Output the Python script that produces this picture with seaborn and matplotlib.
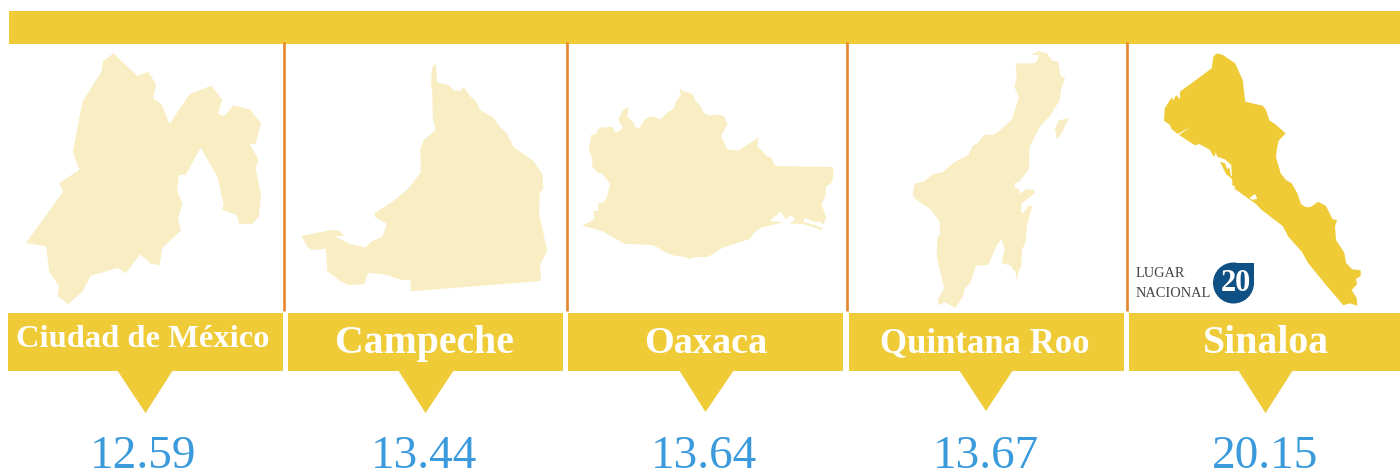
import matplotlib
matplotlib.use('Agg')
import matplotlib.pyplot as plt
from matplotlib.patches import Circle, Rectangle
import seaborn as sns

# Values
states = ['Ciudad de México', 'Campeche', 'Oaxaca', 'Quintana Roo', 'Sinaloa']
values = [12.59, 13.44, 13.64, 13.67, 20.15]
rank_label = ['LUGAR', 'NACIONAL']
rank_value = 20

# Map outlines, in crop coordinates
cdmx = [(312,160),(378,228),(408,215),(429,253),(421,295),(444,312),(466,372),(522,282),(581,257),(611,299),(599,341),(617,348),(642,316),(687,328),(718,370),(703,431),(687,433),(711,479),(703,506),(718,586),(712,650),(694,672),(658,671),(650,644),(611,629),(615,615),(598,531),(552,443),(511,524),(492,525),(487,572),(502,612),(489,656),(498,691),(446,744),(439,796),(415,791),(385,763),(346,820),(324,804),(250,827),(227,874),(187,913),(158,888),(162,858),(135,814),(127,739),(71,729),(174,575),(163,549),(218,510),(200,455),(227,305),(279,215),(283,184)]
campeche = [(1198,187),(1202,248),(1234,255),(1248,272),(1268,272),(1275,260),(1292,288),(1307,301),(1322,331),(1357,353),(1375,381),(1395,402),(1412,441),(1466,482),(1492,523),(1494,566),(1484,582),(1483,645),(1505,752),(1485,795),(1488,843),(1131,874),(1128,840),(1104,840),(1060,824),(1012,818),(1002,853),(959,855),(938,845),(900,814),(896,746),(857,750),(845,740),(829,708),(910,690),(930,691),(948,707),(921,709),(963,732),(1004,742),(1021,725),(1052,710),(1064,671),(1032,652),(1029,640),(1078,606),(1121,568),(1157,518),(1156,447),(1165,421),(1198,390),(1190,352),(1189,280),(1185,250),(1188,205)]
oaxaca = [(327,142),(337,152),(365,162),(372,181),(390,203),(394,218),(411,227),(433,223),(451,229),(461,253),(443,288),(460,328),(490,332),(547,292),(542,317),(570,349),(580,352),(592,378),(751,381),(752,404),(747,428),(731,440),(730,468),(719,494),(733,533),(724,554),(713,544),(703,547),(672,533),(670,546),(700,555),(722,564),(720,571),(670,552),(632,551),(646,539),(636,525),(621,537),(606,515),(577,542),(613,547),(553,563),(535,576),(522,597),(446,624),(407,651),(375,651),(357,657),(340,650),(314,647),(288,636),(265,620),(250,615),(177,611),(117,574),(60,556),(82,546),(95,535),(91,513),(105,512),(105,490),(117,488),(128,475),(138,431),(115,400),(104,398),(89,381),(88,354),(79,328),(85,295),(84,286),(98,282),(108,263),(145,260),(150,276),(161,275),(173,263),(160,240),(173,210),(189,202),(185,229),(200,245),(208,263),(219,263),(235,236),(252,229),(277,238),(296,217),(313,206),(318,186),(333,163)]
qroo = [(1296,45),(1316,33),(1339,40),(1354,63),(1370,64),(1376,107),(1389,115),(1378,146),(1374,181),(1347,228),(1320,259),(1291,321),(1290,386),(1262,426),(1250,430),(1250,441),(1264,450),(1265,462),(1282,448),(1304,449),(1305,461),(1270,489),(1267,516),(1275,519),(1287,498),(1299,497),(1285,553),(1280,608),(1271,628),(1268,682),(1260,697),(1258,724),(1252,696),(1239,677),(1214,669),(1223,630),(1214,596),(1200,618),(1178,674),(1144,678),(1128,729),(1113,745),(1108,769),(1087,804),(1058,786),(1041,796),(1039,778),(1056,744),(1036,650),(1037,595),(1045,582),(1044,545),(1021,510),(976,476),(970,465),(975,431),(1002,424),(1025,403),(1050,398),(1083,368),(1124,344),(1134,318),(1151,307),(1166,284),(1191,285),(1209,272),(1243,238),(1262,172),(1250,142),(1256,104),(1252,67),(1256,70),(1304,70),(1314,60),(1317,45)]
qroo_island = [(1372,241),(1400,234),(1377,285),(1366,298),(1361,265)]
# Sinaloa already in picture pixels
sinaloa = [(1216.7,53.3),(1223,55),(1232.7,61.7),(1235,63),(1242.7,80),(1245.3,101.7),(1262.7,105.7),(1266,110),(1269.3,120.3),(1275,124),(1285.7,133.3),
           (1278.7,140.7),(1276.7,150),(1276,157.3),(1280.7,173.3),(1286,180),(1291.7,183.3),(1297.3,193.3),(1301,204),(1306,207.3),(1310.7,207),(1318.3,201.7),(1326,206),(1332.7,219.3),(1337,220),(1335,226.7),(1336,240),(1344.3,252.7),(1346,262.7),(1352,269.3),(1360.7,270.3),(1360.7,276),(1356,279),(1357,284.3),(1351.7,290),(1356.7,298.3),(1357.3,305.7),(1350,303.3),(1343.3,305.3),(1326,285),(1308.3,263.3),(1301.7,251.7),(1288.3,236.7),(1282.7,226),(1261.7,210),
           (1256,204),(1234,188.3),(1236,187.3),(1251.7,199.7),(1257.3,199),(1255,194),(1249.3,198),(1235,186.7),(1232.3,185),(1232.3,179.3),(1226,174),(1220,161.7),(1225,163.3),(1227.3,169.3),(1229.3,167.3),(1230.7,175),(1232,176.7),(1231.3,165),(1225,159.3),(1217.3,156.7),(1215.7,152),(1214.7,156.7),(1213,155.5),(1210,150),
           (1199.3,144),(1195,145.3),(1179,135),(1190,127.3),(1179,133.3),(1177.5,134),(1171,128.3),(1170,125),(1164,120.7),(1164.7,108.3),(1171.7,97.3),(1173.3,100.7),(1176,95),(1180,99),(1180,91.7),(1211.7,68.3),(1213.3,56.7)]

# Colors
yellow = '#EECB37'
pale = '#F9EEC3'
orange = '#E8862E'
blue = '#3A9ADB'
navy = '#0F5085'


def to_px(points, x0, y0, sx, sy):
    # crops were shown 2.75x wide and 3x tall
    return [x0 + x / sx for x, y in points], [y0 + y / sy for x, y in points]


sns.set_theme(style='white')
plt.rcParams['font.family'] = ['Liberation Serif', 'DejaVu Serif']

fig = plt.figure(figsize=(14, 4.72), dpi=100)
ax = fig.add_axes([0, 0, 1, 1])
ax.set_xlim(0, 1400)
ax.set_ylim(472, 0)
ax.set_axis_off()

# Top band
ax.add_patch(Rectangle((9, 11), 1391, 33, color=yellow, lw=0))

# Dividers
for x in [284, 567, 847, 1127]:
    sns.lineplot(x=[x, x], y=[42, 311], color=orange, linewidth=1.9, estimator=None,
                 sort=False, solid_capstyle='butt', ax=ax, legend=False)

# Maps
for outline, x0, y0, sx, sy, color in [
    (cdmx, 0, 0, 2.75, 3, pale),
    (campeche, 0, 0, 2.75, 3, pale),
    (oaxaca, 560, 40, 2.75, 3, pale),
    (qroo, 560, 40, 2.75, 3, pale),
    (qroo_island, 560, 40, 2.75, 3, pale),
    (sinaloa, 0, 0, 1, 1, yellow),
]:
    xs, ys = to_px(outline, x0, y0, sx, sy)
    ax.fill(xs, ys, color=color, lw=0)

# Name bands with pointers
band_left = [8, 288, 568, 849, 1129]
band_right = [283, 563, 843, 1124, 1400]
tri_left = [117, 398, 679, 959, 1238]
tri_right = [173, 454, 734, 1013, 1293]
tri_tip = [(145.5, 413), (425.5, 413), (705.5, 412), (986, 411), (1265.5, 413)]
name_x = [143, 424, 706, 985, 1266]
name_y = [347, 353, 353, 352, 353]
name_size = [23.4, 28.6, 27.5, 25, 28.6]
value_x = [143, 424, 704, 986, 1265]

for i, state in enumerate(states):
    ax.add_patch(Rectangle((band_left[i], 313), band_right[i] - band_left[i], 58, color=yellow, lw=0))
    ax.fill([tri_left[i], tri_right[i], tri_tip[i][0]], [370, 370, tri_tip[i][1]], color=yellow, lw=0)
    ax.text(name_x[i], name_y[i], state, color='white', fontsize=name_size[i], fontweight='bold',
            ha='center', va='baseline')
    ax.text(value_x[i], 468, f'{values[i]:.2f}', color=blue, fontsize=34, ha='center', va='baseline')

# National rank badge
ax.add_patch(Circle((1233.5, 283), 20.5, color=navy, lw=0))
ax.add_patch(Rectangle((1233.5, 262.5), 20.5, 20.5, color=navy, lw=0))
ax.text(1235.5, 291, str(rank_value), color='white', fontsize=22, fontweight='bold', ha='center', va='baseline')
ax.text(1136, 277, rank_label[0], color='#444444', fontsize=10.4, ha='left', va='baseline')
ax.text(1136, 297, rank_label[1], color='#444444', fontsize=10.4, ha='left', va='baseline')

fig.savefig('out.png', dpi=100)
